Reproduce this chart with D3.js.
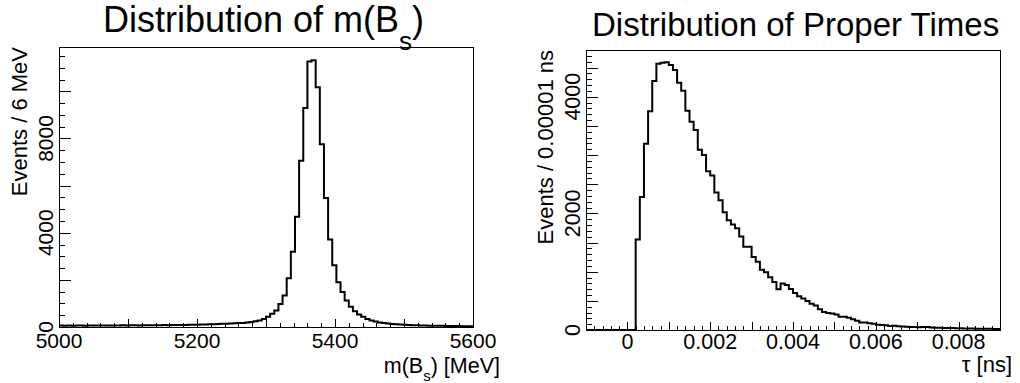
<!DOCTYPE html>
<html lang="en">
<head>
<meta charset="UTF-8">
<title>Bs mass and proper time</title>
<style>
  body { margin: 0; background: #fff; }
  text { font-family: "Liberation Sans", Arial, sans-serif; fill: #000; }
  .tick line { stroke: #000; shape-rendering: crispEdges; }
</style>
</head>
<body>
<div id="target"></div>
<script src="https://d3js.org/d3.v7.min.js"></script>
<script>
// m(Bs): 100 bins of 6 MeV from 5000 to 5600
const massRange = [5000, 5600];
const massBinWidth = 6;
const massCounts = [
  62, 58, 60, 55, 63, 60, 58, 62, 65, 60,
  64, 62, 66, 68, 63, 70, 66, 72, 70, 68,
  74, 72, 76, 74, 78, 80, 77, 82, 85, 83,
  88, 92, 95, 100, 104, 108, 115, 120, 126, 134,
  142, 150, 158, 165, 170, 190, 210, 240, 280, 340,
  438, 560, 700, 980, 1340, 2065, 3195, 4680, 7050, 9290,
  11260, 11320, 10167, 7750, 5470, 3710, 2620, 1900, 1480, 1120,
  862, 670, 530, 430, 340, 280, 230, 195, 165, 145,
  128, 113, 102, 92, 85, 78, 72, 66, 62, 58,
  54, 50, 48, 45, 42, 40, 38, 36, 34, 32
];
const massXLabels = [5000, 5200, 5400, 5600];
const massYLabels = [0, 4000, 8000];

// proper time: 100 bins of 0.0001 ns from -0.001 to 0.009
const timeRange = [-0.001, 0.009];
const timeBinWidth = 0.0001;
const timeCounts = [
  0, 0, 0, 0, 0, 0, 0, 0, 0, 0,
  0, 0, 1550, 2280, 3195, 3750, 4270, 4565, 4580, 4588,
  4543, 4457, 4240, 4103, 3760, 3571, 3429, 3092, 3000, 2720,
  2650, 2357, 2223, 2020, 1880, 1808, 1743, 1605, 1429, 1429,
  1250, 1171, 1035, 990, 905, 825, 697, 798, 771, 705,
  635, 578, 540, 498, 452, 418, 355, 307, 290, 285,
  265, 227, 226, 211, 184, 157, 130, 128, 114, 106,
  92, 85, 80, 70, 74, 66, 60, 55, 52, 50,
  48, 52, 50, 44, 40, 38, 36, 35, 33, 30,
  28, 27, 26, 25, 23, 22, 21, 20, 18, 17
];
const timeXLabels = [0, 0.002, 0.004, 0.006, 0.008];
const timeYLabels = [0, 2000, 4000];

const W = 1020, H = 383;
const svg = d3.select("#target").append("svg")
  .attr("width", W).attr("height", H);

function steps(lo, step, n) {
  return d3.range(n + 1).map(k => lo + k * step);
}

function drawPanel(cfg) {
  const x = d3.scaleLinear().domain(cfg.xDomain).range([cfg.left, cfg.right]);
  const y = d3.scaleLinear().domain([0, cfg.yMax]).range([cfg.bottom, cfg.top]);
  const g = svg.append("g");

  g.append("clipPath").attr("id", cfg.id + "-clip")
    .append("rect")
    .attr("x", cfg.left).attr("y", cfg.top)
    .attr("width", cfg.right - cfg.left).attr("height", cfg.bottom - cfg.top);

  // histogram outline
  const pts = [];
  cfg.counts.forEach((c, i) => {
    const x0 = cfg.xDomain[0] + i * cfg.binWidth;
    pts.push([x(x0), y(c)], [x(x0 + cfg.binWidth), y(c)]);
  });
  g.append("path")
    .attr("clip-path", `url(#${cfg.id}-clip)`)
    .attr("d", d3.line()(pts))
    .attr("fill", "none")
    .attr("stroke", "#000")
    .attr("stroke-width", 2)
    .attr("stroke-linejoin", "miter");

  // ticks, pointing inward
  const tickAxis = (axis, vals, size, transform) => {
    g.append("g").attr("transform", transform)
      .call(axis.tickValues(vals).tickSize(-size).tickFormat(""))
      .call(a => a.select(".domain").remove());
  };
  tickAxis(d3.axisBottom(x), cfg.xMinor, 4, `translate(0,${cfg.bottom})`);
  tickAxis(d3.axisBottom(x), cfg.xMajor, 8, `translate(0,${cfg.bottom})`);
  tickAxis(d3.axisLeft(y), cfg.yMinor, 6, `translate(${cfg.left},0)`);
  tickAxis(d3.axisLeft(y), cfg.yMajor, 12, `translate(${cfg.left},0)`);

  // frame
  g.append("rect")
    .attr("x", cfg.left + 0.5).attr("y", cfg.top + 0.5)
    .attr("width", cfg.right - cfg.left).attr("height", cfg.bottom - cfg.top)
    .attr("fill", "none").attr("stroke", "#000").attr("stroke-width", 1);

  g.selectAll(".xlab").data(cfg.xLabels).join("text")
    .attr("x", d => x(d)).attr("y", cfg.xLabelY)
    .attr("text-anchor", "middle")
    .style("font-size", cfg.labelSize + "px")
    .text(cfg.xFormat);

  g.selectAll(".ylab").data(cfg.yLabels).join("text")
    .attr("transform", d => `translate(${cfg.yLabelX},${y(d)}) rotate(-90)`)
    .attr("text-anchor", "middle")
    .style("font-size", cfg.labelSize + "px")
    .text(d => d);

  g.append("text")
    .attr("transform", `translate(${cfg.yTitleX},${cfg.top}) rotate(-90)`)
    .attr("text-anchor", "end")
    .style("font-size", "22px")
    .text(cfg.yTitle);

  return g;
}

const left = drawPanel({
  id: "mass", xDomain: massRange, binWidth: massBinWidth, counts: massCounts,
  yMax: 11880, left: 59, right: 473, top: 47, bottom: 327,
  xMajor: steps(5000, 100, 6), xMinor: steps(5000, 20, 30),
  yMajor: steps(0, 2000, 5), yMinor: steps(0, 500, 23),
  xLabels: massXLabels, yLabels: massYLabels, xFormat: d => d,
  xLabelY: 348, yLabelX: 53, labelSize: 21,
  yTitleX: 27, yTitle: "Events / 6 MeV"
});

const right = drawPanel({
  id: "time", xDomain: timeRange, binWidth: timeBinWidth, counts: timeCounts,
  yMax: 4800, left: 586, right: 1000, top: 50, bottom: 330,
  xMajor: steps(-0.001, 0.001, 10), xMinor: steps(-0.001, 0.0002, 50),
  yMajor: steps(0, 500, 9), yMinor: steps(0, 100, 48),
  xLabels: timeXLabels, yLabels: timeYLabels, xFormat: d => d === 0 ? "0" : d3.format(".3f")(d),
  xLabelY: 349, yLabelX: 580, labelSize: 21.5,
  yTitleX: 553, yTitle: "Events / 0.00001 ns"
});

// titles
const t1 = svg.append("text").attr("x", 103).attr("y", 32).style("font-size", "36px");
t1.append("tspan").text("Distribution of m(B");
t1.append("tspan").attr("dy", 18).style("font-size", "26px").text("s");
t1.append("tspan").attr("dy", -18).text(")");

svg.append("text").attr("x", 592).attr("y", 36)
  .style("font-size", "33px")
  .text("Distribution of Proper Times");

// x axis titles
const xt1 = svg.append("text").attr("x", 500).attr("y", 372.5)
  .attr("text-anchor", "end").style("font-size", "21.5px");
xt1.append("tspan").text("m(B");
xt1.append("tspan").attr("dy", 8).style("font-size", "15px").text("s");
xt1.append("tspan").attr("dy", -8).text(") [MeV]");

svg.append("text").attr("x", 1012).attr("y", 372)
  .attr("text-anchor", "end").style("font-size", "22px")
  .text("τ [ns]");
</script>
</body>
</html>
